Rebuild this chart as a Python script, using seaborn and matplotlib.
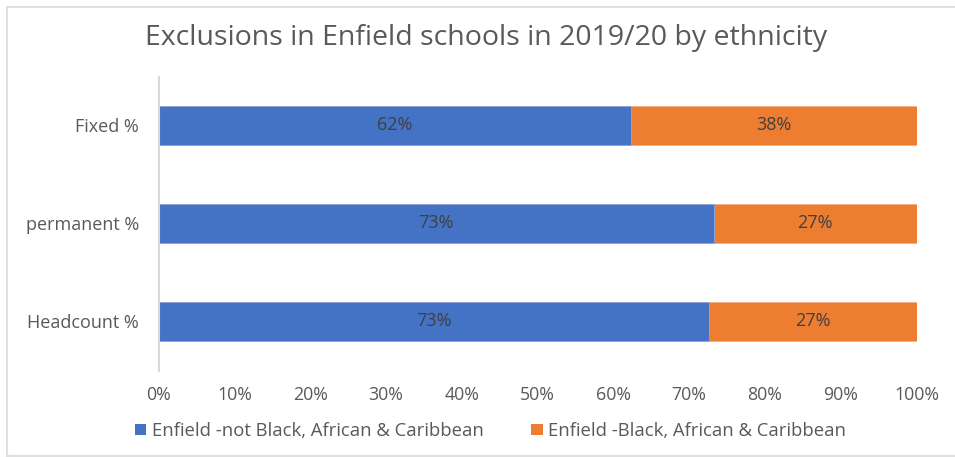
import matplotlib
matplotlib.use("Agg")
import matplotlib.pyplot as plt
import seaborn as sns
import pandas as pd
from matplotlib.patches import Patch
from matplotlib.lines import Line2D

# Share of exclusions (and pupil headcount) by ethnic group, in percent
categories = ["Fixed %", "permanent %", "Headcount %"]
not_black_african_caribbean = [62.3, 73.3, 72.6]
black_african_caribbean = [37.7, 26.7, 27.4]
series_names = ["Enfield -not Black, African & Caribbean",
                "Enfield -Black, African & Caribbean"]
x_ticks = [0, 10, 20, 30, 40, 50, 60, 70, 80, 90, 100]
title = "Exclusions in Enfield schools in 2019/20 by ethnicity"

BLUE = "#4472C4"
ORANGE = "#ED7D31"
TEXT_GREY = "#595959"
LABEL_DARK = "#404040"
LINE_GREY = "#D9D9D9"

sns.set_theme(style="white")
plt.rcParams["font.family"] = ["Open Sans", "DejaVu Sans"]

W, H = 955, 457
fig = plt.figure(figsize=(W / 100, H / 100), dpi=100)
ax = fig.add_axes([158.5 / W, 1 - 370.5 / H, 758 / W, 294 / H])

df = pd.DataFrame({
    "category": categories,
    "not_bac": not_black_african_caribbean,
    "bac": black_african_caribbean,
})
df["cumulative"] = df["not_bac"] + df["bac"]

# Stacked bars: full-length orange first, blue segment drawn over it
sns.barplot(data=df, y="category", x="cumulative", color=ORANGE, width=0.4,
            saturation=1, errorbar=None, orient="h", ax=ax,
            edgecolor="#F4B183", linewidth=0.6)
sns.barplot(data=df, y="category", x="not_bac", color=BLUE, width=0.4,
            saturation=1, errorbar=None, orient="h", ax=ax,
            edgecolor="#8FAADC", linewidth=0.6)

# Segment value labels
for i, (a, b) in enumerate(zip(df["not_bac"], df["bac"])):
    ax.text(a / 2, i, f"{a:.0f}%", ha="center", va="center",
            fontsize=13, color=LABEL_DARK)
    ax.text(a + b / 2, i, f"{b:.0f}%", ha="center", va="center",
            fontsize=13, color=LABEL_DARK)

ax.set_xlim(0, 100)
ax.set_ylim(2.5, -0.5)
ax.set_xticks(x_ticks)
ax.set_xticklabels([f"{t}%" for t in x_ticks])
ax.set_xlabel("")
ax.set_ylabel("")
ax.tick_params(axis="x", length=0, pad=11, labelsize=12.8, labelcolor=TEXT_GREY)
ax.tick_params(axis="y", length=0, pad=14, labelsize=13, labelcolor=TEXT_GREY)
for side in ["top", "right", "bottom"]:
    ax.spines[side].set_visible(False)
ax.spines["left"].set_color(LINE_GREY)
ax.spines["left"].set_linewidth(1.5)
ax.set_facecolor("white")

# Title
fig.text(486 / W, 1 - 38 / H, title, ha="center", va="center",
         fontsize=20.5, color=TEXT_GREY)

# Legend along the bottom
handles = [Patch(facecolor=BLUE, edgecolor="none", label=series_names[0]),
           Patch(facecolor=ORANGE, edgecolor="none", label=series_names[1])]
fig.legend(handles=handles, loc="center", bbox_to_anchor=(490.5 / W, 1 - 431 / H),
           ncol=2, frameon=False, fontsize=13.3, labelcolor=TEXT_GREY,
           handlelength=0.6, handleheight=0.6, handletextpad=0.3,
           columnspacing=2.6)

# Chart area border (top, left, bottom)
border = dict(color="#E0E0E0", linewidth=1.5, transform=fig.transFigure)
fig.add_artist(Line2D([7 / W, 1], [1 - 7 / H, 1 - 7 / H], **border))
fig.add_artist(Line2D([7 / W, 7 / W], [1 - 7 / H, 0], **border))
fig.add_artist(Line2D([7 / W, 1], [1.5 / H, 1.5 / H], **border))

fig.savefig("out.png", dpi=100, facecolor="white")
